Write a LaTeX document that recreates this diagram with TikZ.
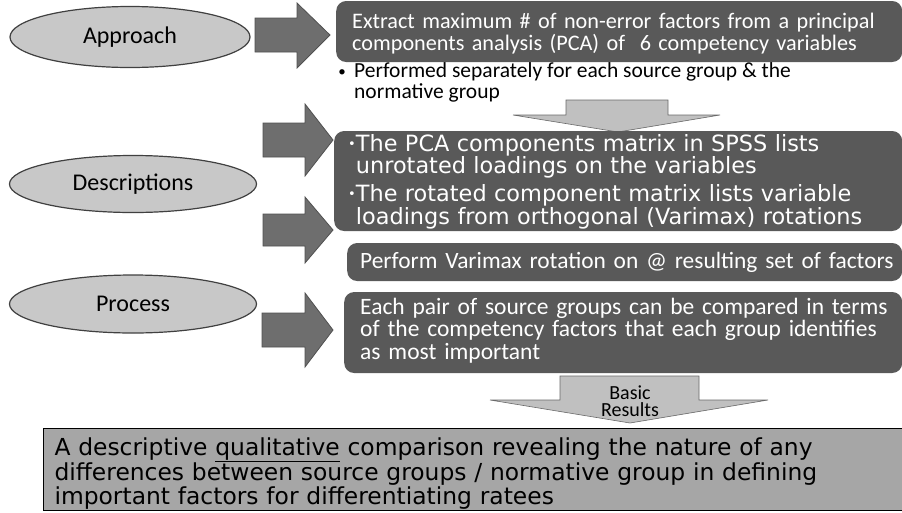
\documentclass[tikz,border=0pt]{standalone}
\usepackage{fontspec}
\setmainfont{Carlito}
\newfontfamily\wideface{DejaVu Sans}
\usepackage{xcolor}
\usepackage{tikz}
\usetikzlibrary{shapes.geometric,positioning}

\definecolor{boxgray}{HTML}{595959}
\definecolor{arrowgray}{HTML}{6E6E6E}
\definecolor{arrowedge}{HTML}{505050}
\definecolor{ovalgray}{HTML}{C8C8C8}
\definecolor{ovaledge}{HTML}{404040}
\definecolor{pointergray}{HTML}{C0C0C0}
\definecolor{pointeredge}{HTML}{6A6A6A}
\definecolor{resultgray}{HTML}{A6A6A6}

\tikzset{
    phase/.style={ellipse, fill=ovalgray, draw=ovaledge, line width=1.2pt,
        inner sep=0pt, font=\fontsize{24}{24}\selectfont},
    stepbox/.style={rectangle, rounded corners=10pt, fill=boxgray, text=white,
        anchor=base west, align=left, inner ysep=0pt},
    blockarrow/.style={fill=arrowgray, draw=arrowedge, line width=0.8pt},
    pointer/.style={fill=pointergray, draw=pointeredge, line width=0.6pt},
}

\begin{document}
\begin{tikzpicture}[x=1pt,y=-1pt]
    \useasboundingbox (0,0) rectangle (902,512);

    % Phases on the left
    \node[phase, minimum width=240pt, minimum height=61pt] (approach) at (130,37) {Approach};
    \node[phase, minimum width=247pt, minimum height=57pt] (descr) at (133,184) {Descriptions};
    \node[phase, minimum width=247pt, minimum height=58pt] (process) at (133,304) {Process};

    % Block arrows
    \draw[blockarrow] (255,18) -- (297,18) -- (297,3) -- (330,35) -- (297,68) -- (297,52) -- (255,52) -- cycle;
    \draw[blockarrow] (263,123) -- (305,123) -- (305,104) -- (333,140) -- (305,176) -- (305,157) -- (263,157) -- cycle;
    \draw[blockarrow] (263,214) -- (305,214) -- (305,197) -- (333,230) -- (305,263) -- (305,246) -- (263,246) -- cycle;
    \draw[blockarrow] (262,313) -- (305,313) -- (305,293) -- (333,330) -- (305,367) -- (305,347) -- (262,347) -- cycle;

    % Steps
    \node[stepbox, text width=534pt, inner xsep=16pt, text height=27pt, text depth=34pt,
        font=\fontsize{22.2}{22}\selectfont] (extract) at (336,28)
        {Extract maximum \# of non-error factors from a principal\\components analysis (PCA) of \ 6 competency variables};

    \node[anchor=base, inner sep=0pt, font=\fontsize{15}{15}\selectfont] (dot) at (342,76) {\textbullet};
    \node[anchor=base west, inner sep=0pt, align=left, font=\fontsize{21.5}{20.5}\selectfont] (separate) at (354,98)
        {Performed separately for each source group \& the\\normative group};

    \draw[pointer] (566,100) -- (668,100) -- (668,115) -- (720,115) -- (618,132) -- (513,115) -- (566,115) -- cycle;

    \node[stepbox, text width=540pt, inner xsep=14pt, text height=20pt, text depth=80pt,
        font=\wideface\fontsize{22.4}{21}\selectfont] (matrix) at (334,151)
        {{\fontsize{13}{13}\selectfont\raisebox{3pt}{\textbullet}}The PCA components matrix in SPSS lists\\
         \phantom{\fontsize{13}{13}\selectfont\textbullet}unrotated loadings on the variables\\[5pt]
         {\fontsize{13}{13}\selectfont\raisebox{3pt}{\textbullet}}The rotated component matrix lists variable\\
         \phantom{\fontsize{13}{13}\selectfont\textbullet}loadings from orthogonal (Varimax) rotations};

    \node[stepbox, text width=529pt, inner xsep=13pt, text height=25pt, text depth=13pt,
        font=\fontsize{23.4}{23}\selectfont] (varimax) at (347,268)
        {\mbox{Perform Varimax rotation on @ resulting set of factors}};

    \node[stepbox, text width=526pt, inner xsep=16pt, text height=22pt, text depth=59pt,
        font=\fontsize{23.5}{22.5}\selectfont] (compare) at (344,314)
        {\mbox{Each pair of source groups can be compared in terms}\\
         \mbox{of the competency factors that each group identifies}\\
         as most important};

    % Basic results
    \draw[pointer] (560,376) -- (699,376) -- (699,400) -- (768,400) -- (630,423) -- (490,400) -- (560,400) -- cycle;
    \node[anchor=base, inner sep=0pt, align=center, font=\fontsize{20}{17}\selectfont] (basic) at (630,416) {Basic\\Results};

    \node[rectangle, anchor=base west, align=left, fill=resultgray, draw=black, line width=1pt,
        text width=850pt, inner xsep=11pt, inner ysep=0pt, text height=27pt, text depth=55pt,
        font=\wideface\fontsize{23.4}{24}\selectfont] (result) at (43,455)
        {A descriptive \underline{qualitative} comparison revealing the nature of any\\
         differences between source groups / normative group in defining\\
         important factors for differentiating ratees};
\end{tikzpicture}
\end{document}
